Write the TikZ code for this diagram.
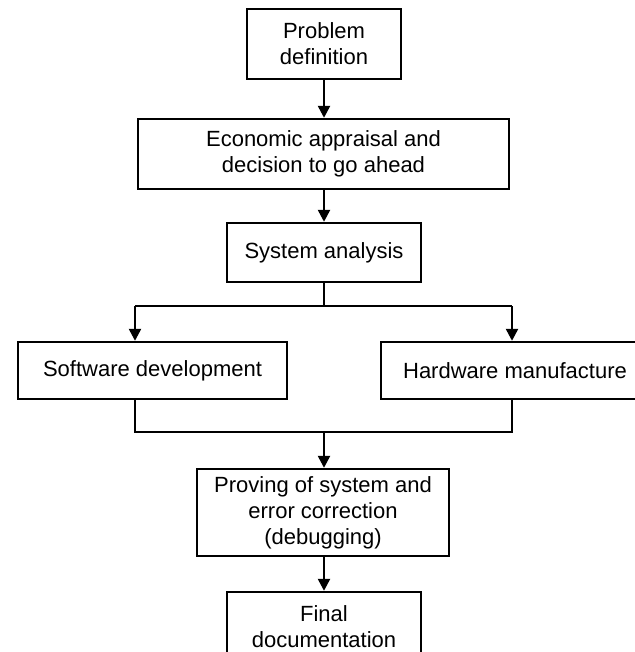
\documentclass[tikz,border=0pt]{standalone}
\usepackage{fontspec}
\setmainfont{Liberation Sans}
\usetikzlibrary{arrows.meta}

\begin{document}
\begin{tikzpicture}[x=0.5pt,y=-0.5pt]
\tikzstyle{box}=[draw=black, line width=1.2pt, align=center, inner sep=0pt, font=\fontsize{11}{13}\selectfont]
\tikzstyle{wire}=[black, line width=1.2pt]
\tikzstyle{arr}=[wire, -{Triangle[length=6pt,width=6pt]}]
\useasboundingbox (0,0) rectangle (635,652);
\clip (0,0) rectangle (635,652);
\node [box, minimum width=77pt, minimum height=35pt] (prob) at (324,44) {Problem\\definition};
\node [box, minimum width=185.5pt, minimum height=35pt] (econ) at (323.5,154) {Economic appraisal and\\decision to go ahead};
\node [box, minimum width=97pt, minimum height=29.5pt] (sys) at (324,252.5) {System analysis};
\node [box, minimum width=134.5pt, minimum height=28.5pt] (soft) at (152.5,370.5) {Software development};
\node [box, minimum width=134pt, minimum height=28.5pt] (hard) at (515,370.5) {Hardware manufacture};
\node [box, minimum width=126pt, minimum height=43.5pt] (prove) at (323,512.5) {Proving of system and\\error correction\\(debugging)};
\node [box, minimum width=97pt, minimum height=35pt] (final) at (324,627) {Final\\documentation};
\coordinate (sl) at (135,306);
\coordinate (sr) at (512,306);
\coordinate (jl) at (135,432);
\coordinate (jr) at (512,432);
\coordinate (join) at (324,432);
\draw [arr] (prob) -- (prob.south |- econ.north);
\draw [arr] (econ.south -| prob.south) -- (prob.south |- sys.north);
\draw [wire] (sys.south) |- (sl);
\draw [wire] (sys.south) |- (sr);
\draw [arr] (sl) -- (sl |- soft.north);
\draw [arr] (sr) -- (sr |- hard.north);
\draw [wire] (sl |- soft.south) -- (jl) -- (jr) -- (jr |- hard.south);
\draw [arr] (join) -- (join |- prove.north);
\draw [arr] (prove.south -| join) -- (join |- final.north);
\end{tikzpicture}
\end{document}
